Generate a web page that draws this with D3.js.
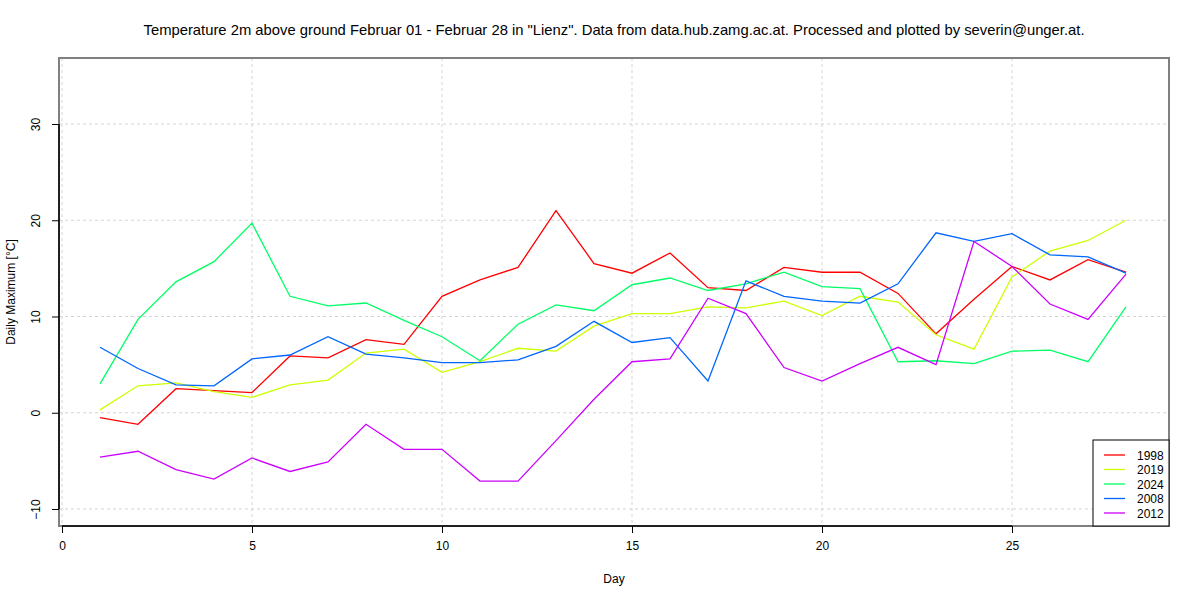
<!DOCTYPE html>
<html><head><meta charset="utf-8">
<script src="https://cdn.jsdelivr.net/npm/d3@7"></script>
<style>body{margin:0;background:#fff}svg{display:block;font-family:"Liberation Sans",Arial,sans-serif}</style>
</head><body><svg id="c" width="1200" height="600"></svg>
<script>
const days = d3.range(1, 29);
const years = ["1998", "2019", "2024", "2008", "2012"];
const colors = ["#FF0000", "#CCFF00", "#00FF66", "#0066FF", "#CC00FF"];
const s1998 = [-0.5,-1.2,2.5,2.3,2.1,5.9,5.7,7.6,7.1,12.1,13.8,15.1,21.0,15.5,14.5,16.6,13.0,12.7,15.1,14.6,14.6,12.4,8.2,11.8,15.2,13.8,15.9,14.6];
const s2019 = [0.3,2.8,3.1,2.2,1.6,2.9,3.4,6.2,6.6,4.2,5.3,6.7,6.4,9.0,10.3,10.3,11.0,10.9,11.6,10.1,12.1,11.5,8.1,6.6,14.1,16.8,17.9,20.0];
const s2024 = [3.0,9.7,13.6,15.7,19.7,12.1,11.1,11.4,9.6,7.9,5.4,9.2,11.2,10.6,13.3,14.0,12.7,13.4,14.6,13.1,12.9,5.3,5.4,5.1,6.4,6.5,5.3,11.0];
const s2008 = [6.8,4.6,2.9,2.8,5.6,6.0,7.9,6.1,5.7,5.2,5.2,5.5,6.9,9.5,7.3,7.8,3.3,13.7,12.1,11.6,11.4,13.4,18.7,17.8,18.6,16.4,16.2,14.5];
const s2012 = [-4.6,-4.0,-5.9,-6.9,-4.7,-6.1,-5.1,-1.2,-3.8,-3.8,-7.1,-7.1,-2.9,1.4,5.3,5.6,11.9,10.3,4.7,3.3,5.1,6.8,5.0,17.8,15.2,11.3,9.7,14.4];
const series = [s1998, s2019, s2024, s2008, s2012];
const xTicks = [0,5,10,15,20,25];
const yTicks = [-10,0,10,20,30];
const title = 'Temperature 2m above ground Februar 01 - Februar 28 in "Lienz". Data from data.hub.zamg.ac.at. Processed and plotted by severin@unger.at.';

const svg = d3.select("#c");
const L = 59, R = 1169, T = 58, B = 526;
const x = d3.scaleLinear().domain([0, 25]).range([62, 1012]);
const y = d3.scaleLinear().domain([-10, 30]).range([509, 124]);

// grid
const g = svg.append("g");
g.selectAll(".gx").data(xTicks).join("line")
  .attr("x1", d => x(d)).attr("x2", d => x(d)).attr("y1", T).attr("y2", B)
  .attr("stroke", "#d3d3d3").attr("stroke-dasharray", "3,3");
g.selectAll(".gy").data(yTicks).join("line")
  .attr("x1", L).attr("x2", R).attr("y1", d => y(d)).attr("y2", d => y(d))
  .attr("stroke", "#d3d3d3").attr("stroke-dasharray", "3,3");

// lines
const line = d3.line().x((d, i) => x(days[i])).y(d => y(d));
series.forEach((s, k) => {
  svg.append("path").datum(s).attr("d", line).attr("fill", "none")
    .attr("stroke", colors[k]).attr("stroke-width", 1.3);
});

// box
svg.append("rect").attr("x", L).attr("y", T).attr("width", R - L).attr("height", B - T)
  .attr("fill", "none").attr("stroke", "#808080").attr("stroke-width", 2);

// axes
const ax = svg.append("g").attr("transform", `translate(0,${B})`)
  .call(d3.axisBottom(x).tickValues(xTicks).tickSize(7).tickPadding(8).tickFormat(d3.format("d")));
ax.select(".domain").attr("d", `M${x(0)},0H${x(25)}`).attr("stroke", "#000").attr("stroke-width", 1.5);
ax.selectAll(".tick line").attr("stroke", "#000");
ax.selectAll("text").attr("font-size", 12).attr("fill", "#000");

const ay = svg.append("g").attr("transform", `translate(${L},0)`)
  .call(d3.axisLeft(y).tickValues(yTicks).tickSize(7).tickFormat(d3.format("d")));
ay.select(".domain").attr("d", `M0,${y(-10)}V${y(30)}`).attr("stroke", "#000").attr("stroke-width", 1.5);
ay.selectAll(".tick line").attr("stroke", "#000");
ay.selectAll("text").attr("font-size", 12).attr("fill", "#000")
  .attr("text-anchor", "middle").attr("x", 0).attr("dy", 0)
  .attr("transform", "translate(-19,0) rotate(-90)");

// titles
svg.append("text").attr("x", (L + R) / 2).attr("y", 35).attr("text-anchor", "middle")
  .attr("font-size", 14.8).text(title);
svg.append("text").attr("x", (L + R) / 2).attr("y", 583).attr("text-anchor", "middle")
  .attr("font-size", 12).text("Day");
svg.append("text").attr("transform", `translate(15,${(T + B) / 2}) rotate(-90)`)
  .attr("text-anchor", "middle").attr("font-size", 12).text("Daily Maximum [°C]");

// legend
const lg = svg.append("g");
lg.append("rect").attr("x", 1093).attr("y", 440).attr("width", R - 1093).attr("height", B - 440)
  .attr("fill", "#fff").attr("stroke", "#000").attr("stroke-width", 1);
years.forEach((yr, i) => {
  const yy = 455 + i * 14.5;
  lg.append("line").attr("x1", 1104).attr("x2", 1125).attr("y1", yy).attr("y2", yy)
    .attr("stroke", colors[i]).attr("stroke-width", 1.3);
  lg.append("text").attr("x", 1137).attr("y", yy + 4.5).attr("font-size", 12).text(yr);
});
</script></body></html>
